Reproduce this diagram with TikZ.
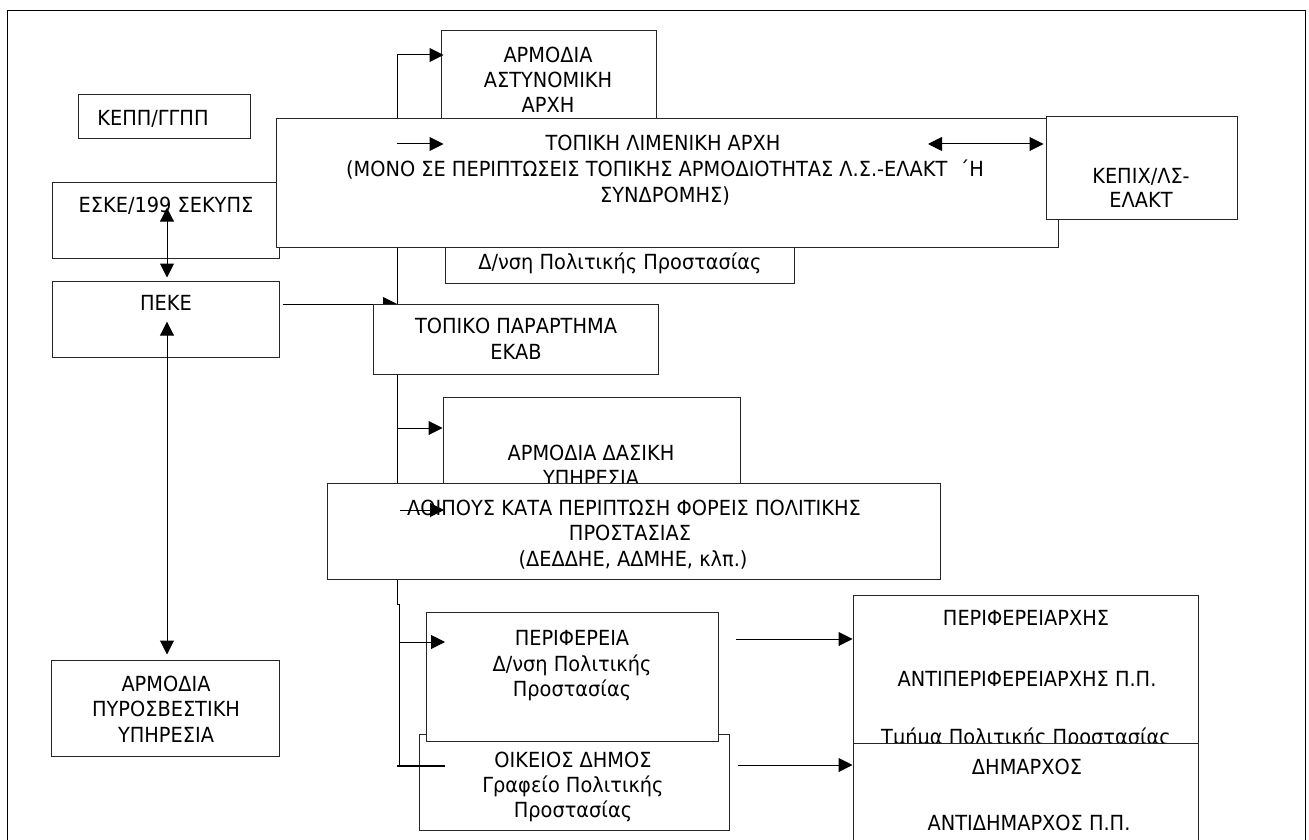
\documentclass[tikz,border=0pt]{standalone}
\usepackage{fontspec}
\setmainfont[FakeStretch=0.93]{DejaVu Sans}
\usetikzlibrary{arrows.meta,fit}
\newcommand\fs{\fontsize{20.8pt}{25pt}\selectfont}
\begin{document}
\begin{tikzpicture}[x=1pt,y=-1pt,
  box/.style={draw=black!85, line width=1pt, fill=white, inner sep=0pt},
  txt/.style={inner sep=0pt, text height=15pt, text depth=0pt, font=\fs},
  ln/.style={line width=1pt},
  arr/.style={ln, -{Triangle[length=14pt,width=14pt]}},
  darr/.style={ln, {Triangle[length=14pt,width=14pt]}-{Triangle[length=14pt,width=14pt]}},
  thk/.style={line width=2pt}]
\useasboundingbox (0,0) rectangle (1309,840);
% outer frame
\draw[ln] (7,860) -- (7,11) -- (1305,11) -- (1305,860);

% Astynomiki
\node[box, fit={(441,31) (656,130)}] (astyn) {};
\node[txt] (astynA) at (548,55) {ΑΡΜΟΔΙΑ};
\node[txt] (astynB) at (548,80) {ΑΣΤΥΝΟΜΙΚΗ};
\node[txt] (astynC) at (548,105) {ΑΡΧΗ};

% Dnsi (partly hidden)
\node[box, fit={(445,200) (794,283)}] (dnsi) {};
\node[txt] (dnsiA) at (620,262) {Δ/νση Πολιτικής Προστασίας};

% ESKE
\node[box, fit={(52,182) (279,258)}] (eske) {};
\node[txt] (eskeT) at (166,205) {ΕΣΚΕ/199 ΣΕΚΥΠΣ};

% trunk
\coordinate (tTop) at (397,55);
\coordinate (tMid) at (397,604);
\coordinate (tE) at (397,304);
\draw[arr, shorten >=-3pt] (tMid) -- (tTop) -- (tTop -| astyn.west);

% PEKE
\node[box, fit={(52,281) (279,357)}] (peke) {};
\node[txt] (pekeT) at (166,303) {ΠΕΚΕ};
\draw[arr, shorten <=3pt] (peke.east |- tE) -- (tE);

% Limeniki
\node[box, fit={(276,119) (1058,247)}] (limen) {};
\node[txt] (limenA) at (663,143) {ΤΟΠΙΚΗ ΛΙΜΕΝΙΚΗ ΑΡΧΗ};
\node[txt] (limenB) at (665,169) {(ΜΟΝΟ ΣΕ ΠΕΡΙΠΤΩΣΕΙΣ ΤΟΠΙΚΗΣ ΑΡΜΟΔΙΟΤΗΤΑΣ Λ.Σ.-ΕΛΑΚΤ \ ΄Η};
\node[txt] (limenC) at (665,195) {ΣΥΝΔΡΟΜΗΣ)};

% KEPIX
\node[box, fit={(1046,117) (1237,219)}] (kepix) {};
\node[txt] (kepixA) at (1141,176) {ΚΕΠΙΧ/ΛΣ-};
\node[txt] (kepixB) at (1141,200) {ΕΛΑΚΤ};

\coordinate (lA) at (397,144);
\draw[arr, shorten >=-3pt] (lA) -- (lA -| astyn.west);
\coordinate (lD) at (928,144);
\draw[darr, shorten >=2pt] (lD) -- (lD -| kepix.west);

% KEPP
\node[box, fit={(78,95) (250,139)}] (kepp) {};
\node[txt] (keppT) at (153,118) {ΚΕΠΠ/ΓΓΠΠ};

% PYR and arrows ESKE-PEKE-PYR
\node[box, fit={(51,660) (279,756)}] (pyr) {};
\node[txt] (pyrA) at (166,684) {ΑΡΜΟΔΙΑ};
\node[txt] (pyrB) at (166,709) {ΠΥΡΟΣΒΕΣΤΙΚΗ};
\node[txt] (pyrC) at (166,735) {ΥΠΗΡΕΣΙΑ};
\draw[darr, shorten <=-5pt, shorten >=3pt] (eskeT.south -| 167,0) -- (peke.north -| 167,0);
\draw[darr, shorten <=11pt, shorten >=5pt] (pekeT.south -| 167,0) -- (pyr.north -| 167,0);

% EKAB
\node[box, fit={(373,304) (658,374)}] (ekab) {};
\node[txt] (ekabA) at (516,326) {ΤΟΠΙΚΟ ΠΑΡΑΡΤΗΜΑ};
\node[txt] (ekabB) at (516,352) {ΕΚΑΒ};

% Dasiki
\node[box, fit={(443,397) (740,520)}] (dasik) {};
\node[txt] (dasikA) at (591,453) {ΑΡΜΟΔΙΑ ΔΑΣΙΚΗ};
\node[txt] (dasikB) at (591,478) {ΥΠΗΡΕΣΙΑ};
\coordinate (tD) at (397,428);
\draw[arr] (tD) -- (tD -| dasik.west);

% Loipous
\node[box, fit={(327,483) (940,579)}] (loip) {};
\node[txt] (loipA) at (634,508) {ΛΟΙΠΟΥΣ ΚΑΤΑ ΠΕΡΙΠΤΩΣΗ ΦΟΡΕΙΣ ΠΟΛΙΤΙΚΗΣ};
\node[txt] (loipB) at (630,533) {ΠΡΟΣΤΑΣΙΑΣ};
\node[txt] (loipC) at (633,559) {(ΔΕΔΔΗΕ, ΑΔΜΗΕ, κλπ.)};
\coordinate (lpS) at (400,510);
\coordinate (lpE) at (444,510);
\draw[arr] (lpS) -- (lpE);

% lower trunk
\coordinate (t2Top) at (399.5,604);
\coordinate (t2Bot) at (399.5,766);
\draw[ln] (tMid) -- (t2Top) -- (t2Bot);

% Oikeios and Perifereia
\node[box, fit={(419,734) (729,830)}] (oik) {};
\node[txt] (oikA) at (573,760) {ΟΙΚΕΙΟΣ ΔΗΜΟΣ};
\node[txt] (oikB) at (573,785) {Γραφείο Πολιτικής};
\node[txt] (oikC) at (573,810) {Προστασίας};
\node[box, fit={(426,612) (718,741)}] (perif) {};
\node[txt] (perifA) at (572,638) {ΠΕΡΙΦΕΡΕΙΑ};
\node[txt] (perifB) at (572,664) {Δ/νση Πολιτικής};
\node[txt] (perifC) at (572,689) {Προστασίας};
\coordinate (pS) at (399.5,642);
\coordinate (pE) at (445,642);
\draw[arr] (pS) -- (pE);
\coordinate (oS) at (397,766);
\coordinate (oE) at (445,766);
\draw[thk] (oS) -- (oE);

% Perifereiarxis and Dimarxos
\node[box, fit={(853,595) (1198,780)}] (parx) {};
\node[txt] (parxA) at (1026,618) {ΠΕΡΙΦΕΡΕΙΑΡΧΗΣ};
\node[txt] (parxB) at (1027,679) {ΑΝΤΙΠΕΡΙΦΕΡΕΙΑΡΧΗΣ Π.Π.};
\node[txt] (parxC) at (1026,737) {Τμήμα Πολιτικής Προστασίας};
\node[box, fit={(853,743) (1198,870)}] (dim) {};
\node[txt] (dimA) at (1027,767) {ΔΗΜΑΡΧΟΣ};
\node[txt] (dimB) at (1029,823) {ΑΝΤΙΔΗΜΑΡΧΟΣ Π.Π.};
\coordinate (pa) at (736,639);
\draw[arr] (pa) -- (pa -| parx.west);
\coordinate (da) at (738,765);
\draw[arr] (da) -- (da -| dim.west);
\end{tikzpicture}
\end{document}
